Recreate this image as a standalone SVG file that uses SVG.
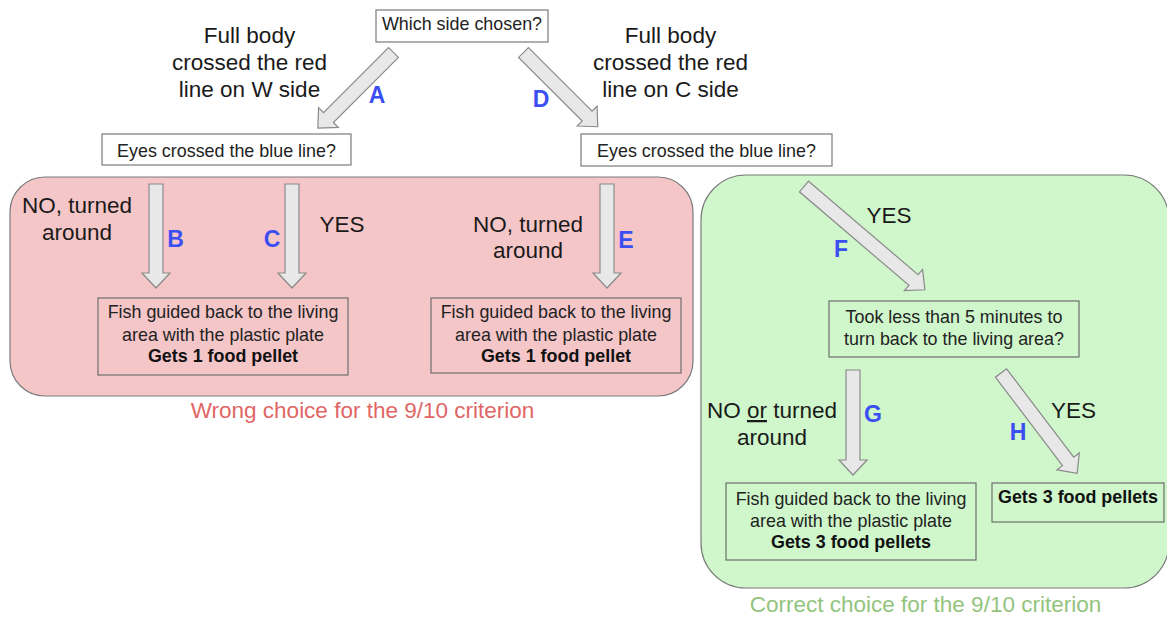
<svg xmlns="http://www.w3.org/2000/svg" width="1167" height="617" viewBox="0 0 1167 617">
<style>
text{font-family:"Liberation Sans",Arial,sans-serif;}
.box{fill:#fff;stroke:#7a7a7a;stroke-width:1.2;}
.ibox{fill:none;stroke:#6e6e6e;stroke-width:1.2;}
.t{font-size:17.9px;fill:#222;text-anchor:middle;}
.tb{font-size:17.9px;fill:#111;text-anchor:middle;font-weight:bold;}
.lbl{font-size:22.5px;fill:#1a1a1a;text-anchor:middle;}
.let{font-size:23px;fill:#3b4ef2;text-anchor:middle;font-weight:bold;}
.arr{fill:#e8e8e8;stroke:#8a8a8a;stroke-width:1.2;stroke-linejoin:miter;}
</style>
<rect width="1167" height="617" fill="#fff"/>
<g id="panel-wrong">
<rect x="10" y="177" width="683" height="219" rx="35" ry="35" fill="#f5c6c8" stroke="#7a7a7a" stroke-width="1.2"/>
<text x="362.5" y="418" style="font-size:22.5px;fill:#e06666;text-anchor:middle">Wrong choice for the 9/10 criterion</text>
</g>
<g id="panel-correct">
<rect x="701" y="175" width="468" height="413" rx="45" ry="45" fill="#cff7cb" stroke="#7a7a7a" stroke-width="1.2"/>
<text x="925.5" y="612" style="font-size:22.5px;fill:#93c47d;text-anchor:middle">Correct choice for the 9/10 criterion</text>
</g>
<g id="n-which">
<rect class="box" x="376" y="10" width="172" height="32"/>
<text class="t" x="462" y="30">Which side chosen?</text>
</g>
<g id="n-eyes-w">
<rect class="box" x="102" y="134" width="249" height="31"/>
<text class="t" x="226.5" y="157">Eyes crossed the blue line?</text>
</g>
<g id="n-eyes-c">
<rect class="box" x="581" y="134" width="251" height="32"/>
<text class="t" x="706.5" y="157">Eyes crossed the blue line?</text>
</g>
<g id="n-fish1">
<rect class="ibox" x="98" y="298" width="250" height="77"/>
<text class="t" x="223" y="318">Fish guided back to the living</text>
<text class="t" x="223" y="341">area with the plastic plate</text>
<text class="tb" x="223" y="362">Gets 1 food pellet</text>
</g>
<g id="n-fish2">
<rect class="ibox" x="431" y="298" width="250" height="75"/>
<text class="t" x="556" y="318">Fish guided back to the living</text>
<text class="t" x="556" y="341">area with the plastic plate</text>
<text class="tb" x="556" y="362">Gets 1 food pellet</text>
</g>
<g id="n-took">
<rect class="ibox" x="829" y="301" width="250" height="56"/>
<text class="t" x="954" y="323">Took less than 5 minutes to</text>
<text class="t" x="954" y="345">turn back to the living area?</text>
</g>
<g id="n-fish3">
<rect class="ibox" x="726" y="483" width="250" height="77"/>
<text class="t" x="851" y="505">Fish guided back to the living</text>
<text class="t" x="851" y="527">area with the plastic plate</text>
<text class="tb" x="851" y="548">Gets 3 food pellets</text>
</g>
<g id="n-gets3">
<rect class="ibox" x="992" y="483" width="172" height="39"/>
<text class="tb" x="1078" y="503">Gets 3 food pellets</text>
</g>
<g id="connectors">
<polygon class="arr" transform="translate(393.5,52.5) rotate(135)" points="0,-7 92,-7 92,-14 107,0 92,14 92,7 0,7"/>
<polygon class="arr" transform="translate(523.5,52.5) rotate(45)" points="0,-7 90,-7 90,-14 105,0 90,14 90,7 0,7"/>
<polygon class="arr" transform="translate(156,184) rotate(90)" points="0,-7 89,-7 89,-14 104,0 89,14 89,7 0,7"/>
<polygon class="arr" transform="translate(292,184) rotate(90)" points="0,-7 89,-7 89,-14 104,0 89,14 89,7 0,7"/>
<polygon class="arr" transform="translate(607,184) rotate(90)" points="0,-7 89,-7 89,-14 104,0 89,14 89,7 0,7"/>
<polygon class="arr" transform="translate(804,186.5) rotate(40.5)" points="0,-7 144,-7 144,-14 159,0 144,14 144,7 0,7"/>
<polygon class="arr" transform="translate(853,370) rotate(90)" points="0,-7 90,-7 90,-14 105,0 90,14 90,7 0,7"/>
<polygon class="arr" transform="translate(1001,373) rotate(52.8)" points="0,-7 111,-7 111,-14 126,0 111,14 111,7 0,7"/>
<text class="lbl" x="249.5" y="43">Full body</text>
<text class="lbl" x="249.5" y="70">crossed the red</text>
<text class="lbl" x="249.5" y="97">line on W side</text>
<text class="lbl" x="670.5" y="43">Full body</text>
<text class="lbl" x="670.5" y="70">crossed the red</text>
<text class="lbl" x="670.5" y="97">line on C side</text>
<text class="lbl" x="77" y="213">NO, turned</text>
<text class="lbl" x="77" y="240">around</text>
<text class="lbl" x="342" y="232">YES</text>
<text class="lbl" x="528" y="232">NO, turned</text>
<text class="lbl" x="528" y="258">around</text>
<text class="lbl" x="889" y="223">YES</text>
<text class="lbl" x="772" y="418">NO <tspan text-decoration="underline">or</tspan> turned</text>
<text class="lbl" x="772" y="445">around</text>
<text class="lbl" x="1073.5" y="418">YES</text>
<text class="let" x="377" y="103">A</text>
<text class="let" x="541" y="107">D</text>
<text class="let" x="175.5" y="247">B</text>
<text class="let" x="272" y="247">C</text>
<text class="let" x="626" y="248">E</text>
<text class="let" x="841" y="257">F</text>
<text class="let" x="873" y="422">G</text>
<text class="let" x="1018" y="440">H</text>
</g>
</svg>
